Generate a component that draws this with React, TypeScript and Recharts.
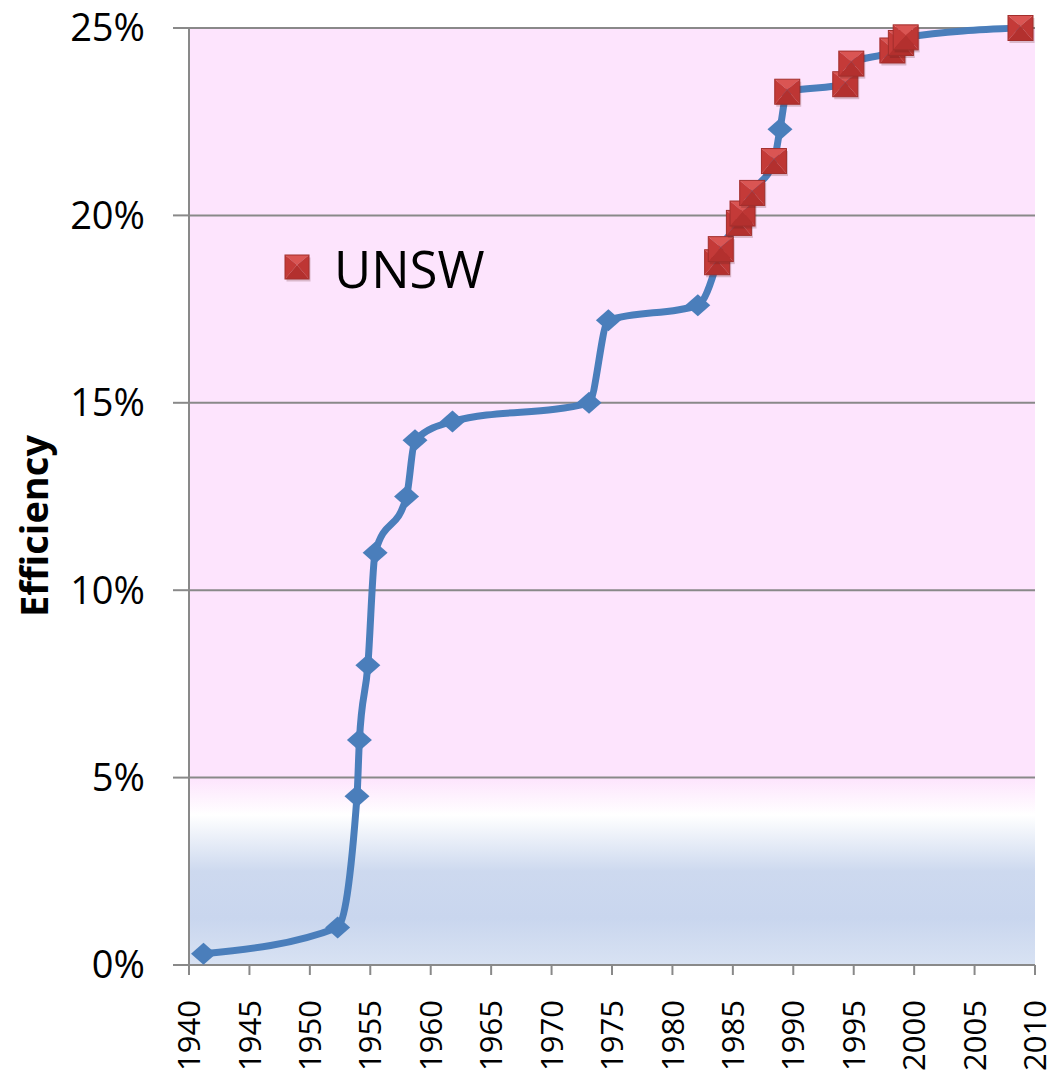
import { ComposedChart, Line, Scatter, XAxis, YAxis, CartesianGrid } from "recharts";

// efficiency records, other labs (diamonds)
const otherYears = [1941.2, 1952.3, 1953.9, 1954.1, 1954.8, 1955.4, 1958.0, 1958.7, 1961.8, 1973.1, 1974.7, 1982.1, 1988.9];
const otherEff = [0.3, 1.0, 4.5, 6.0, 8.0, 11.0, 12.5, 14.0, 14.5, 15.0, 17.2, 17.6, 22.3];

// UNSW records (squares)
const unswYears = [1983.7, 1984.0, 1985.5, 1985.8, 1986.6, 1988.4, 1989.5, 1994.3, 1994.8, 1998.2, 1998.9, 1999.3, 2008.8];
const unswEff = [18.75, 19.1, 19.8, 20.05, 20.6, 21.45, 23.3, 23.5, 24.05, 24.4, 24.6, 24.75, 25.0];

const yearTicks = [1940, 1945, 1950, 1955, 1960, 1965, 1970, 1975, 1980, 1985, 1990, 1995, 2000, 2005, 2010];
const effTicks = [0, 5, 10, 15, 20, 25];

const BLUE = "#4A7EBB";
const GRID = "#898989";
const FONT = "'Open Sans', sans-serif";

const other = otherYears.map((y, i) => ({ year: y, eff: otherEff[i], unsw: false }));
const unsw = unswYears.map((y, i) => ({ year: y, eff: unswEff[i], unsw: true }));
const all = [...other, ...unsw].sort((a, b) => a.year - b.year);

function Diamond(props: any) {
  const { cx, cy, payload } = props;
  if (cx == null || cy == null || payload?.unsw) return <g />;
  return <polygon points={`${cx},${cy - 11} ${cx + 12.5},${cy} ${cx},${cy + 11} ${cx - 12.5},${cy}`} fill={BLUE} />;
}

function Square({ cx, cy, s = 12.5 }: { cx: number; cy: number; s?: number }) {
  const l = cx - s, r = cx + s, t = cy - s, b = cy + s;
  return (
    <g>
      <rect x={l + 1.5} y={t + 2.5} width={s * 2} height={s * 2} fill="#5a1a1a" opacity={0.22} />
      <polygon points={`${l},${t} ${r},${t} ${cx},${cy - 2}`} fill="#DA5553" />
      <polygon points={`${l},${b} ${r},${b} ${cx},${cy - 2}`} fill="#B3302E" />
      <polygon points={`${l},${t} ${l},${b} ${cx},${cy - 2}`} fill="#C43A38" />
      <polygon points={`${r},${t} ${r},${b} ${cx},${cy - 2}`} fill="#BE3634" />
      <rect x={l} y={t} width={s * 2} height={s * 2} fill="none" stroke="#A22E2C" strokeWidth={1} />
    </g>
  );
}

function YearTick(props: any) {
  const { x, y, payload } = props;
  return (
    <text
      x={x}
      y={y}
      transform={`rotate(-90, ${x}, ${y})`}
      textAnchor="end"
      dy="0.36em"
      fontFamily={FONT}
      fontSize={31}
      fill="#000"
    >
      {payload.value}
    </text>
  );
}

export default function App() {
  return (
    <div style={{ position: "absolute", left: 0, top: 0, width: 1052, height: 1072, background: "#fff" }}>
      <svg width={0} height={0} style={{ position: "absolute" }}>
        <defs>
          <linearGradient id="plotBg" x1="0" y1="0" x2="0" y2="1">
            <stop offset="0" stopColor="#FDE4FD" />
            <stop offset="0.80" stopColor="#FDE4FD" />
            <stop offset="0.84" stopColor="#FFFFFF" />
            <stop offset="0.90" stopColor="#CDD9EF" />
            <stop offset="0.95" stopColor="#C9D6EE" />
            <stop offset="1" stopColor="#D8E2F3" />
          </linearGradient>
        </defs>
      </svg>
      <ComposedChart width={1052} height={1072} margin={{ top: 28, right: 17, bottom: 0, left: 0 }}>
        <CartesianGrid vertical={false} stroke={GRID} strokeWidth={2} fill="url(#plotBg)" fillOpacity={1} />
        <XAxis
          type="number"
          dataKey="year"
          domain={[1940, 2010]}
          ticks={yearTicks}
          allowDataOverflow
          height={107}
          tickSize={10}
          tickMargin={25}
          tick={<YearTick />}
          axisLine={{ stroke: GRID, strokeWidth: 2 }}
          tickLine={{ stroke: GRID, strokeWidth: 2 }}
        />
        <YAxis
          type="number"
          dataKey="eff"
          domain={[0, 25]}
          ticks={effTicks}
          width={189}
          tickSize={16}
          tickMargin={28}
          tickFormatter={(v) => `${v}%`}
          tick={{ fontFamily: FONT, fontSize: 38, fill: "#000" }}
          axisLine={{ stroke: GRID, strokeWidth: 2 }}
          tickLine={{ stroke: GRID, strokeWidth: 2 }}
          label={() => (
            <text
              x={33}
              y={526}
              transform="rotate(-90, 33, 526)"
              textAnchor="middle"
              dominantBaseline="central"
              fontFamily={FONT}
              fontWeight="bold"
              fontSize={38}
              fill="#000"
            >
              Efficiency
            </text>
          )}
        />
        <Line
          data={all}
          dataKey="eff"
          type="monotone"
          stroke={BLUE}
          strokeWidth={7}
          dot={<Diamond />}
          activeDot={false}
          isAnimationActive={false}
        />
        <Scatter
          data={unsw}
          dataKey="eff"
          name="UNSW"
          shape={(p: any) => <Square cx={p.cx} cy={p.cy} />}
          isAnimationActive={false}
        />
      </ComposedChart>
      <div
        style={{
          position: "absolute",
          left: 284,
          top: 233,
          display: "flex",
          alignItems: "center",
          fontFamily: FONT,
          fontSize: 51,
          color: "#000",
        }}
      >
        <svg width={28} height={28} style={{ marginRight: 22 }}>
          <Square cx={13} cy={13} s={12} />
        </svg>
        <span>UNSW</span>
      </div>
    </div>
  );
}
